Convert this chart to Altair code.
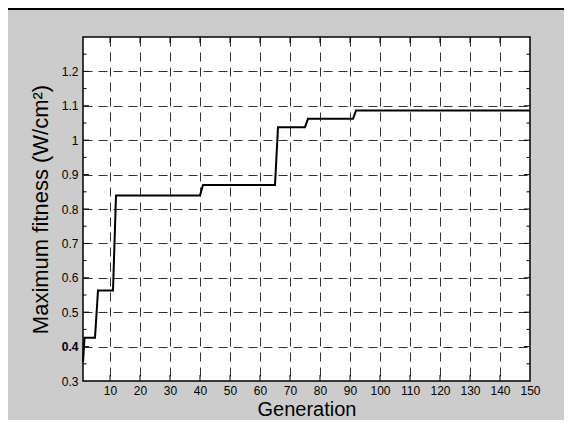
import altair as alt
import pandas as pd

# ---- data ----
generation = [1, 1.5, 5, 6, 11, 12, 40, 41, 65, 66, 75, 76, 91, 92, 150]
max_fitness = [0.355, 0.426, 0.426, 0.563, 0.563, 0.839, 0.839, 0.870, 0.870,
               1.038, 1.038, 1.062, 1.062, 1.086, 1.086]

x_tick_values = [10, 20, 30, 40, 50, 60, 70, 80, 90, 100, 110, 120, 130, 140, 150]
x_inner_ticks = [10, 20, 30, 40, 50, 60, 70, 80, 90, 100, 110, 120, 130, 140]
y_tick_values = [0.3, 0.4, 0.5, 0.6, 0.7, 0.8, 0.9, 1.0, 1.1, 1.2]
y_inner_major = [0.4, 0.5, 0.6, 0.7, 0.8, 0.9, 1.0, 1.1, 1.2]
y_inner_minor = [0.35, 0.45, 0.55, 0.65, 0.75, 0.85, 0.95, 1.05, 1.15, 1.25]

W, H = 447, 344
FONT = "Liberation Sans"

df = pd.DataFrame({"gen": generation, "fit": max_fitness})
xt = pd.DataFrame({"gen": x_inner_ticks})
ytM = pd.DataFrame({"fit": y_inner_major})
ytm = pd.DataFrame({"fit": y_inner_minor})
one = pd.DataFrame({"a": [0]})

xs = alt.Scale(domain=[1, 150], nice=False, zero=False)
ys = alt.Scale(domain=[0.3, 1.3], nice=False, zero=False)

x_axis = alt.Axis(
    values=x_tick_values, title="Generation", grid=True, ticks=False, domain=False,
    labelFont=FONT, labelFontSize=12, labelColor="#000", labelPadding=4,
    labelOverlap=False, labelFlush=False,
    gridDash=[9, 6], gridColor="#333", gridWidth=1,
    titleFont=FONT, titleFontSize=20, titleFontWeight="normal", titleColor="#000",
    titleX=W / 2, titleY=34.5, titleBaseline="alphabetic", titleAlign="center",
)
y_axis = alt.Axis(
    values=y_tick_values, title="Maximum fitness (W/cm²)", grid=True, ticks=False, domain=False,
    labelFont=FONT, labelFontSize=12, labelColor="#000", labelPadding=5,
    labelOverlap=False, labelFlush=False,
    labelExpr="toString(round(datum.value*10)/10)",
    labelFontWeight={"condition": {"test": "datum.value > 0.39 && datum.value < 0.41", "value": "bold"},
                     "value": "normal"},
    gridDash=[9, 6], gridColor="#333", gridWidth=1,
    titleFont=FONT, titleFontSize=22, titleFontWeight="normal", titleColor="#000",
    titleX=-36, titleY=H / 2, titleAngle=270, titleBaseline="alphabetic", titleAlign="center",
)

X = alt.X("gen:Q", scale=xs, axis=x_axis, title="Generation")
Y = alt.Y("fit:Q", scale=ys, axis=y_axis, title="Maximum fitness (W/cm²)")

line = alt.Chart(df).mark_line(color="black", strokeWidth=2).encode(x=X, y=Y)

tick_style = dict(color="black", strokeWidth=1)
bottom_ticks = alt.Chart(xt).mark_rule(**tick_style).encode(
    x=X, y=alt.value(H), y2=alt.value(H - 6))
top_ticks = alt.Chart(xt).mark_rule(**tick_style).encode(
    x=X, y=alt.value(0), y2=alt.value(6))
left_major = alt.Chart(ytM).mark_rule(**tick_style).encode(
    y=Y, x=alt.value(0), x2=alt.value(6))
right_major = alt.Chart(ytM).mark_rule(**tick_style).encode(
    y=Y, x=alt.value(W), x2=alt.value(W - 6))
left_minor = alt.Chart(ytm).mark_rule(**tick_style).encode(
    y=Y, x=alt.value(0), x2=alt.value(3.5))
right_minor = alt.Chart(ytm).mark_rule(**tick_style).encode(
    y=Y, x=alt.value(W), x2=alt.value(W - 3.5))

top_bar = alt.Chart(one).mark_rule(color="black", strokeWidth=2).encode(
    x=alt.value(-80), x2=alt.value(W + 50), y=alt.value(-28))

chart = alt.layer(
    line, bottom_ticks, top_ticks, left_major, right_major, left_minor, right_minor, top_bar
).properties(
    width=W, height=H,
    autosize=alt.AutoSizeParams(type="none"),
    padding={"left": 75, "top": 29, "right": 34, "bottom": 39},
).configure(
    background="#cccccc",
).configure_view(
    fill="white", stroke="black", strokeWidth=1.5,
)

chart.save("out.html", embed_options={"renderer": "svg", "actions": False})
